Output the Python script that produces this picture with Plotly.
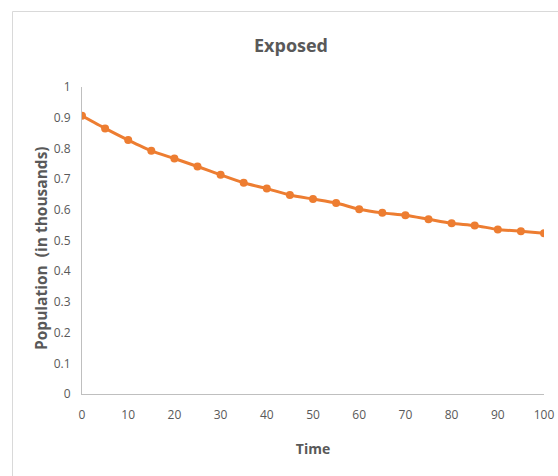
import plotly.graph_objects as go

time = [0, 5, 10, 15, 20, 25, 30, 35, 40, 45, 50, 55, 60, 65, 70, 75, 80, 85, 90, 95, 100]
exposed = [0.906, 0.865, 0.827, 0.792, 0.767, 0.741, 0.714, 0.688, 0.669, 0.648,
           0.635, 0.622, 0.602, 0.590, 0.582, 0.569, 0.556, 0.549, 0.536, 0.530, 0.524]
x_ticks = [0, 10, 20, 30, 40, 50, 60, 70, 80, 90, 100]
y_ticks = [0, 0.1, 0.2, 0.3, 0.4, 0.5, 0.6, 0.7, 0.8, 0.9, 1]

FONT = "Open Sans, DejaVu Sans Condensed, sans-serif"
GRAY = "#595959"
ORANGE = "#ED7D31"

fig = go.Figure()
fig.add_trace(go.Scatter(
    x=time, y=exposed, mode="lines+markers",
    line=dict(color=ORANGE, width=3, shape="spline", smoothing=0.6),
    marker=dict(color=ORANGE, size=8),
    showlegend=False,
))

fig.update_layout(
    template="none",
    width=558, height=476,
    margin=dict(l=82, r=14, t=87, b=82, autoexpand=False),
    paper_bgcolor="white", plot_bgcolor="white",
    font=dict(family=FONT, color=GRAY, size=12),
    title=dict(text="<b>Exposed</b>", x=(291 - 82) / 462, xref="paper", xanchor="center",
               y=0.905, yanchor="middle",
               font=dict(size=18, color=GRAY, family=FONT)),
    xaxis=dict(
        range=[0, 100], tickvals=x_ticks, ticktext=[str(v) for v in x_ticks],
        showgrid=False, zeroline=False, showline=True, linecolor="#BFBFBF", linewidth=1,
        ticks="", ticklabelstandoff=10, automargin=False,
        tickfont=dict(size=12, color=GRAY),
        title=dict(text="<b>Time</b>", font=dict(size=14, color=GRAY), standoff=21),
    ),
    yaxis=dict(
        range=[0, 1], tickvals=y_ticks, ticktext=[f"{v:g}" for v in y_ticks],
        showgrid=False, zeroline=False, showline=True, linecolor="#BFBFBF", linewidth=1,
        ticks="", ticklabelstandoff=8, automargin=False,
        tickfont=dict(size=12, color=GRAY),
    ),
    annotations=[dict(
        text="<b>Population  (in thousands)</b>", textangle=-90,
        xref="paper", yref="paper", x=(41 - 82) / 462, y=(394 - 248) / 307,
        xanchor="center", yanchor="middle", showarrow=False,
        font=dict(size=15.5, color=GRAY, family=FONT),
    )],
    shapes=[dict(type="rect", xref="paper", yref="paper",
                 x0=(12.5 - 82) / 462, x1=(575 - 82) / 462,
                 y0=(394 - 495) / 307, y1=(394 - 11.5) / 307,
                 line=dict(color="#D9D9D9", width=1), fillcolor="rgba(0,0,0,0)", layer="below")],
)

fig.write_html(
    "out.html",
    config={"displayModeBar": False, "responsive": False},
    post_script="document.body.style.margin='0';document.documentElement.style.overflow='hidden';document.body.style.overflow='hidden';",
)
